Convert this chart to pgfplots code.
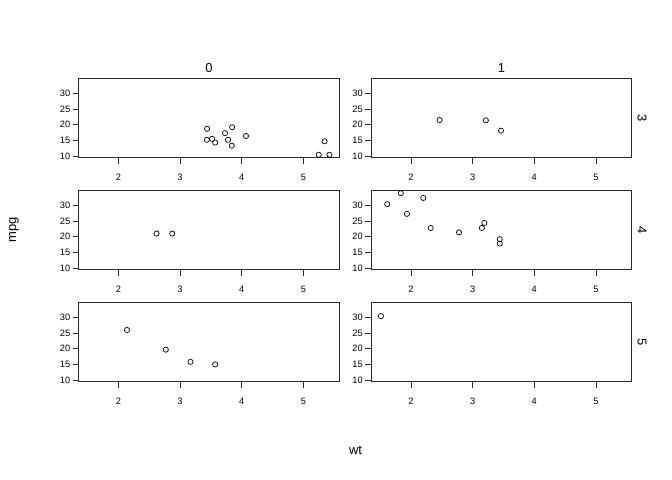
\documentclass[border=0pt]{standalone}
\usepackage{pgfplots}
\pgfplotsset{compat=1.18}
\usepackage{fontspec}
\setmainfont{Liberation Sans}
\definecolor{frame}{RGB}{40,40,40}
\pgfplotsset{
  facet/.style={
    scale only axis, width=260.4bp, height=79.4bp,
    xmin=1.357, xmax=5.580, ymin=9.46, ymax=34.84,
    xtick={2,3,4,5}, ytick={10,15,20,25,30},
    tick align=outside, major tick length=6bp,
    xtick pos=bottom, ytick pos=left,
    axis line style={frame, line width=0.8bp},
    every tick/.style={frame, line width=0.7bp},
    tick label style={font=\fontsize{9.3}{10}\selectfont, text=black},
    yticklabel style={xshift=1bp},
    xticklabel style={yshift=-6.5bp},
    /pgf/number format/assume math mode=true,
    anchor=south west,
  },
  pts/.style={only marks, mark=o, mark size=2.6bp, mark options={line width=0.7bp, black}},
}
\begin{document}
\begin{tikzpicture}
\path (0bp,0bp) rectangle (672bp,480bp);
% row gear 3
\begin{axis}[facet, at={(78.7bp,322.3bp)}]
\addplot[pts] coordinates {(3.440,18.7) (3.570,14.3) (4.070,16.4) (3.730,17.3) (3.780,15.2) (5.250,10.4) (5.424,10.4) (5.345,14.7) (3.520,15.5) (3.435,15.2) (3.840,13.3) (3.845,19.2)};
\end{axis}
\begin{axis}[facet, at={(371.3bp,322.3bp)}]
\addplot[pts] coordinates {(3.215,21.4) (3.460,18.1) (2.465,21.5)};
\end{axis}
% row gear 4
\begin{axis}[facet, at={(78.7bp,210.3bp)}]
\addplot[pts] coordinates {(2.620,21.0) (2.875,21.0)};
\end{axis}
\begin{axis}[facet, at={(371.3bp,210.3bp)}]
\addplot[pts] coordinates {(2.320,22.8) (3.190,24.4) (3.150,22.8) (3.440,19.2) (3.440,17.8) (2.200,32.4) (1.615,30.4) (1.835,33.9) (1.935,27.3) (2.780,21.4)};
\end{axis}
% row gear 5
\begin{axis}[facet, at={(78.7bp,98.3bp)}]
\addplot[pts] coordinates {(2.140,26.0) (3.170,15.8) (2.770,19.7) (3.570,15.0)};
\end{axis}
\begin{axis}[facet, at={(371.3bp,98.3bp)}]
\addplot[pts] coordinates {(1.513,30.4)};
\end{axis}
% strip labels
\node[font=\fontsize{13}{15}\selectfont] at (208.9bp,412bp) {0};
\node[font=\fontsize{13}{15}\selectfont] at (501.5bp,412bp) {1};
\node[font=\fontsize{13}{15}\selectfont, rotate=-90] at (642bp,362bp) {3};
\node[font=\fontsize{13}{15}\selectfont, rotate=-90] at (642bp,250bp) {4};
\node[font=\fontsize{13}{15}\selectfont, rotate=-90] at (642bp,138bp) {5};
% axis labels
\node[font=\fontsize{13}{15}\selectfont, rotate=90] at (14bp,250bp) {mpg};
\node[font=\fontsize{13}{15}\selectfont] at (355.6bp,30bp) {wt};
\end{tikzpicture}
\end{document}
